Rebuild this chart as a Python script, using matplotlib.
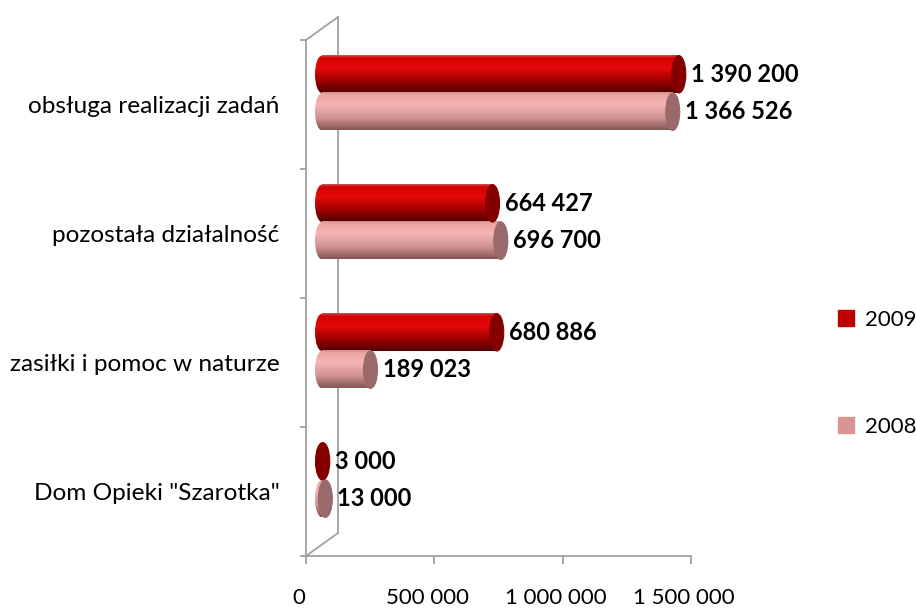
import numpy as np
import matplotlib.pyplot as plt
import matplotlib.transforms as mtransforms
from matplotlib.colors import LinearSegmentedColormap
from matplotlib.patches import Ellipse, Patch
from matplotlib.lines import Line2D
from matplotlib.ticker import FuncFormatter

plt.rcParams['font.family'] = ['Lato', 'DejaVu Sans']

# data (bottom to top, as on the chart)
categories = ['Dom Opieki "Szarotka"', 'zasiłki i pomoc w naturze',
              'pozostała działalność', 'obsługa realizacji zadań']
values_2009 = [3000, 680886, 664427, 1390200]
values_2008 = [13000, 189023, 696700, 1366526]
series_names = ['2009', '2008']
x_ticks = [0, 500000, 1000000, 1500000]


def fmt(v, pos=None):
    return f"{int(v):,}".replace(",", " ")


fig = plt.figure(figsize=(9.16, 6.10), dpi=100)
ax = fig.add_axes([306 / 916, 54 / 610, 385 / 916, 516 / 610])

# fake 3d box: depth in pixels, bars sit halfway into it
ax_w_px, ax_h_px = 385, 516
depth_dx, depth_dy = 32, 23
px_x = 1500000 / ax_w_px
px_y = len(categories) / ax_h_px
shift_x = depth_dx / 2 * px_x
shift_y = depth_dy / 2 * px_y
cap_px = 14
cap_w = cap_px * px_x
bar_h = 0.29

cmap_2009 = LinearSegmentedColormap.from_list(
    'c2009', [(0, '#c85050'), (0.07, '#d40000'), (0.33, '#e60a0a'),
              (0.68, '#a00000'), (1, '#500000')])
cmap_2008 = LinearSegmentedColormap.from_list(
    'c2008', [(0, '#d49090'), (0.07, '#eda5a5'), (0.33, '#f6b4b4'),
              (0.68, '#d09292'), (1, '#845656')])
cap_colors = ['#840000', '#9a6a6a']
legend_colors = ['#c00000', '#d99594']
grad = np.linspace(0, 1, 64).reshape(-1, 1)

y = np.arange(len(categories))
series = [(values_2009, cmap_2009, cap_colors[0], bar_h / 2),
          (values_2008, cmap_2008, cap_colors[1], -bar_h / 2)]
for vals, cmap, cap, off in series:
    for yi, v in zip(y, vals):
        yc = yi + off + shift_y
        x0 = shift_x
        x1 = shift_x + v
        # rounded left end
        left = Ellipse((x0, yc), cap_w, bar_h, facecolor='none', edgecolor='none')
        ax.add_patch(left)
        im = ax.imshow(grad, cmap=cmap, aspect='auto', zorder=3,
                       extent=(x0 - cap_w / 2, x0, yc - bar_h / 2, yc + bar_h / 2))
        im.set_clip_path(left)
        # body
        ax.imshow(grad, cmap=cmap, aspect='auto', zorder=3,
                  extent=(x0, x1, yc - bar_h / 2, yc + bar_h / 2))
        # end cap
        ax.add_patch(Ellipse((x1, yc), cap_w, bar_h, facecolor=cap,
                             edgecolor=cap, lw=0.8, zorder=4))
        ax.annotate(fmt(v), xy=(x1, yc), xytext=(cap_px / 2 + 5, 0),
                    textcoords='offset pixels', ha='left', va='center',
                    fontsize=17, fontweight='bold', color='black')

ax.set_xlim(0, 1500000)
ax.set_ylim(-0.5, len(categories) - 0.5)

# axes styling
grey = '#a0a0a0'
for s in ['top', 'right']:
    ax.spines[s].set_visible(False)
for s in ['left', 'bottom']:
    ax.spines[s].set_color(grey)
    ax.spines[s].set_linewidth(1.3)

ax.set_xticks(x_ticks)
ax.xaxis.set_major_formatter(FuncFormatter(fmt))
ax.tick_params(axis='x', length=6, width=1.3, color=grey, pad=17,
               labelsize=16)
shift = mtransforms.ScaledTranslation(-7 / 100, 0, fig.dpi_scale_trans)
for lab in ax.get_xticklabels():
    lab.set_transform(lab.get_transform() + shift)

ax.set_yticks(np.arange(len(categories) + 1) - 0.5)
ax.set_yticklabels([])
ax.set_yticks(y, minor=True)
ax.set_yticklabels(categories, minor=True)
ax.tick_params(axis='y', which='major', length=4.5, width=1.3, color=grey)
ax.tick_params(axis='y', which='minor', length=0, pad=19, labelsize=17.6)

# back wall of the 3d box
dxf = depth_dx / ax_w_px
dyf = depth_dy / ax_h_px
for xs, ys in [([dxf, dxf], [dyf, 1 + dyf]), ([0, dxf], [1, 1 + dyf]),
               ([0, dxf], [0, dyf])]:
    ax.add_line(Line2D(xs, ys, transform=ax.transAxes, color=grey, lw=1.3,
                       clip_on=False, zorder=1))

handles = [Patch(color=c, label=n) for c, n in zip(legend_colors, series_names)]
fig.legend(handles=handles, loc='upper left', bbox_to_anchor=(838 / 916, 1 - 310 / 610),
           frameon=False, fontsize=16, handlelength=0.7, handleheight=0.7,
           handletextpad=0.5, labelspacing=3.9, borderpad=0, borderaxespad=0)

fig.savefig('out.png', dpi=100)
